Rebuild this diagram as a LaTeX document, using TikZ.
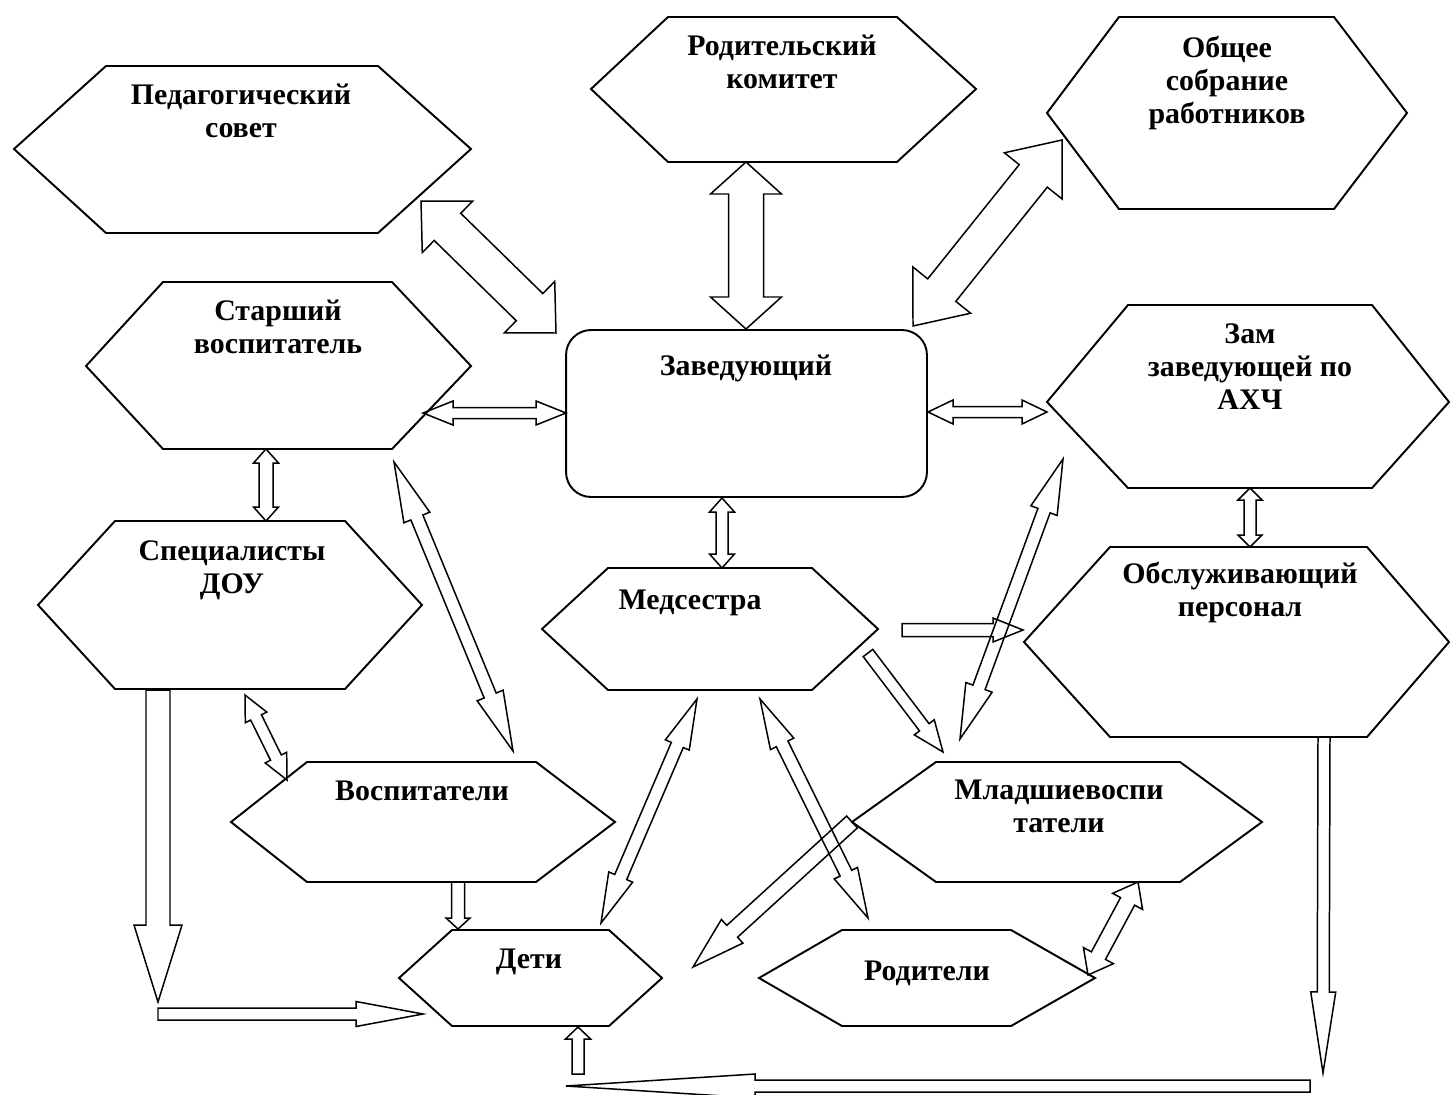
\documentclass[tikz,border=0pt]{standalone}
\usepackage{fontspec}
\setmainfont{Liberation Serif}
\usetikzlibrary{calc}
\def\U{0.02cm}
\tikzset{
  hexline/.style={draw=black, line width=1.1pt, line join=miter},
  blk/.style={draw=black, line width=0.85pt, line join=miter},
  lbl/.style={font=\fontsize{17}{19}\selectfont\bfseries, align=center, inner sep=0pt, anchor=north},
}
% hexagon: name, x-left, x-topleft, x-topright, x-right, y-top, y-mid, y-bottom
\newcommand\hexag[8]{%
  \draw[hexline] (#2,#7) coordinate (#1-w) -- (#3,#6) coordinate (#1-nw) -- (#4,#6) coordinate (#1-ne)
    -- (#5,#7) coordinate (#1-e) -- (#4,#8) coordinate (#1-se) -- (#3,#8) coordinate (#1-sw) -- cycle;}
% double block arrow: A, B, shaft half width, head half width, head length
\newcommand\dblarrow[5]{%
  \coordinate (hA) at ($(#1)!#5*\U!(#2)$);
  \coordinate (hB) at ($(#2)!#5*\U!(#1)$);
  \draw[blk] (#1) -- ($(hA)!#4*\U!90:(#2)$) -- ($(hA)!#3*\U!90:(#2)$) -- ($(hB)!#3*\U!-90:(#1)$)
    -- ($(hB)!#4*\U!-90:(#1)$) -- (#2) -- ($(hB)!#4*\U!90:(#1)$) -- ($(hB)!#3*\U!90:(#1)$)
    -- ($(hA)!#3*\U!-90:(#2)$) -- ($(hA)!#4*\U!-90:(#2)$) -- cycle;}
% single block arrow: tail, tip, shaft half width, head half width, head length
\newcommand\sglarrow[5]{%
  \coordinate (hB) at ($(#2)!#5*\U!(#1)$);
  \draw[blk] ($(#1)!#3*\U!90:(#2)$) -- ($(hB)!#3*\U!-90:(#1)$) -- ($(hB)!#4*\U!-90:(#1)$) -- (#2)
    -- ($(hB)!#4*\U!90:(#1)$) -- ($(hB)!#3*\U!90:(#1)$) -- ($(#1)!#3*\U!-90:(#2)$) -- cycle;}
\begin{document}
\begin{tikzpicture}[x=0.02cm, y=-0.02cm]
\fill[white] (0,0) rectangle (1450,1095);
\useasboundingbox (0,0) rectangle (1450,1095);
\clip (0,0) rectangle (1450,1095);

% shapes
\hexag{ped}{14}{106}{378}{471}{66}{149}{233}
\hexag{rod}{591}{668}{897}{976}{17}{89}{162}
\hexag{obsh}{1047}{1119}{1334}{1407}{17}{113}{209}
\hexag{star}{86}{163}{392}{471}{282}{366}{449}
\hexag{zam}{1047}{1128}{1372}{1449}{305}{402}{488}
\hexag{spec}{38}{115}{345}{422}{521}{605}{689}
\hexag{med}{542}{608}{812}{878}{568}{629}{690}
\hexag{obsl}{1024}{1110}{1367}{1449}{547}{642}{737}
\hexag{vosp}{231}{307}{536}{615}{762}{822}{882}
\hexag{mlad}{852}{936}{1180}{1262}{762}{822}{882}
\hexag{deti}{399}{452}{609}{662}{930}{978}{1026}
\hexag{rodit}{759}{842}{1011}{1095}{930}{978}{1026}
\node[draw=black, line width=1.1pt, rounded corners=0.5cm, minimum width=7.22cm, minimum height=3.34cm, inner sep=0pt] (zavbox) at (746.5,413.5) {};

% labels
\node[lbl] (tped)   at (241,80.5)   {\strut Педагогический\\\strut совет};
\node[lbl] (trod)   at (782,31.5)   {\strut Родительский\\\strut комитет};
\node[lbl] (tobsh)  at (1227,33.5)  {\strut Общее\\\strut собрание\\\strut работников};
\node[lbl] (tstar)  at (278,296.5)  {\strut Старший\\\strut воспитатель};
\node[lbl] (tzav)   at (746,351.5)  {\strut Заведующий};
\node[lbl] (tzam)   at (1250,319.5) {\strut Зам\\\strut заведующей по\\\strut АХЧ};
\node[lbl] (tspec)  at (232,536.5)  {\strut Специалисты\\\strut ДОУ};
\node[lbl] (tmed)   at (690,585.5)  {\strut Медсестра};
\node[lbl] (tobsl)  at (1240,559.5) {\strut Обслуживающий\\\strut персонал};
\node[lbl] (tvosp)  at (422,776.5)  {\strut Воспитатели};
\node[lbl] (tmlad)  at (1059,775.5) {\strut Младшиевоспи\\\strut татели};
\node[lbl] (tdeti)  at (529,944.5)  {\strut Дети};
\node[lbl] (trodit) at (927,956.5)  {\strut Родители};

% arrow end points
\coordinate (a1s) at (421,201);   \coordinate (a1e) at (556,333);
\coordinate (a2s) at (746,162);   \coordinate (a2e) at (746,329);
\coordinate (a3s) at (1062,140);  \coordinate (a3e) at (913,326);
\coordinate (a4s) at (423,413);   \coordinate (a4e) at (566,413);
\coordinate (a5s) at (928,412);   \coordinate (a5e) at (1047,412);
\coordinate (a6s) at (722,498);   \coordinate (a6e) at (722,568);
\coordinate (a7s) at (266,449);   \coordinate (a7e) at (266,521);
\coordinate (a8s) at (1250,488);  \coordinate (a8e) at (1250,547);
\coordinate (a9s) at (394,462);   \coordinate (a9e) at (513,751);
\coordinate (a10s) at (245,695);  \coordinate (a10e) at (287,780);
\coordinate (a11s) at (1063,459); \coordinate (a11e) at (960,739);
\coordinate (a12s) at (697,699);  \coordinate (a12e) at (601,923);
\coordinate (a13s) at (760,699);  \coordinate (a13e) at (868,918);
\coordinate (a14s) at (1138,882); \coordinate (a14e) at (1088,975);

\coordinate (b1s) at (158,690);   \coordinate (b1e) at (158,1002);
\coordinate (b2s) at (158,1014);  \coordinate (b2e) at (423,1014);
\coordinate (b3s) at (458,882);   \coordinate (b3e) at (458,929);
\coordinate (b4s) at (578,1074);  \coordinate (b4e) at (578,1027);
\coordinate (b5s) at (1324,737);  \coordinate (b5e) at (1323,1073);
\coordinate (b6s) at (1310,1086); \coordinate (b6e) at (566,1086);
\coordinate (b7s) at (902,630);   \coordinate (b7e) at (1023,630);
\coordinate (b8s) at (868,653);   \coordinate (b8e) at (943,752);
\coordinate (b9s) at (852,822);   \coordinate (b9e) at (693,967);

% double arrows
\dblarrow{a1s}{a1e}{19}{36}{37}
\dblarrow{a2s}{a2e}{17.5}{35.5}{32}
\dblarrow{a3s}{a3e}{18}{37}{46}
\dblarrow{a4s}{a4e}{5.5}{12}{30}
\dblarrow{a5s}{a5e}{5.5}{12}{25}
\dblarrow{a6s}{a6e}{6}{12.5}{14}
\dblarrow{a7s}{a7e}{7}{12.5}{14}
\dblarrow{a8s}{a8e}{6}{12}{12}
\dblarrow{a9s}{a9e}{6.5}{14}{60}
\dblarrow{a10s}{a10e}{6}{12}{25}
\dblarrow{a11s}{a11e}{6.5}{14}{55}
\dblarrow{a12s}{a12e}{6.5}{13}{50}
\dblarrow{a13s}{a13e}{6.5}{13}{50}
\dblarrow{a14s}{a14e}{8}{17}{22}

% single arrows
\sglarrow{b1s}{b1e}{12}{24}{77}
\sglarrow{b2s}{b2e}{6}{12.5}{67}
\sglarrow{b3s}{b3e}{6.5}{12}{11}
\sglarrow{b4s}{b4e}{6}{12.5}{12}
\sglarrow{b5s}{b5e}{6}{12.5}{81}
\sglarrow{b6s}{b6e}{6}{12}{189}
\sglarrow{b7s}{b7e}{6.5}{12}{30}
\sglarrow{b8s}{b8e}{6}{12.5}{31}
\sglarrow{b9s}{b9e}{8}{16}{53}
\end{tikzpicture}
\end{document}
